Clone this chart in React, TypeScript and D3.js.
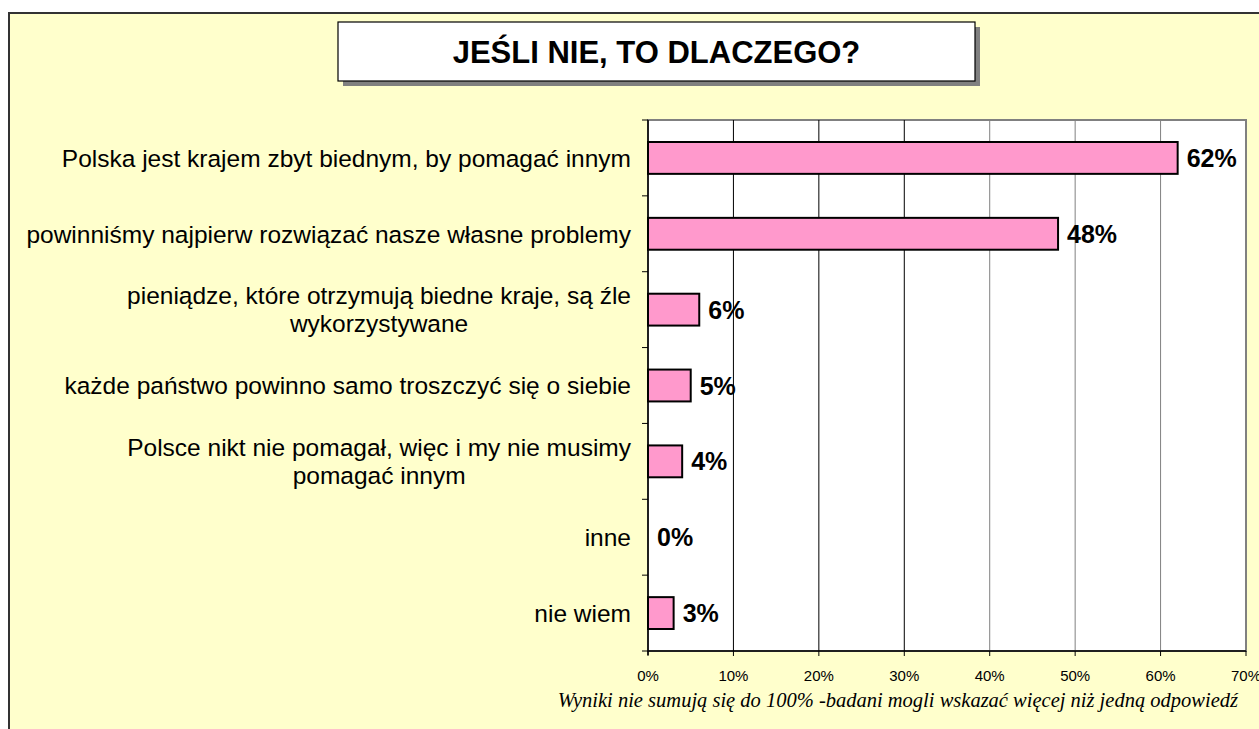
import React, { useEffect, useRef } from 'react';
import * as d3 from 'd3';

const title = 'JEŚLI NIE, TO DLACZEGO?';
const categories = [
  'Polska jest krajem zbyt biednym, by pomagać innym',
  'powinniśmy najpierw rozwiązać nasze własne problemy',
  'pieniądze, które otrzymują biedne kraje, są źle\nwykorzystywane',
  'każde państwo powinno samo troszczyć się o siebie',
  'Polsce nikt nie pomagał, więc i my nie musimy\npomagać innym',
  'inne',
  'nie wiem',
];
const values = [62, 48, 6, 5, 4, 0, 3];
const xTicks = [0, 10, 20, 30, 40, 50, 60, 70];
const footnote = 'Wyniki nie sumują się do 100% -badani mogli wskazać więcej niż jedną odpowiedź';

const W = 1259;
const H = 729;

const App: React.FC = () => {
  const svgRef = useRef<SVGSVGElement>(null);

  useEffect(() => {
    if (!svgRef.current) return;
    const svg = d3.select(svgRef.current);
    svg.selectAll('*').remove();

    const plot = { left: 648, right: 1246, top: 120, bottom: 651 };
    const sans = 'Arial, "Liberation Sans", sans-serif';

    // frame background
    svg.append('rect')
      .attr('x', 9).attr('y', 13).attr('width', W + 10).attr('height', H)
      .attr('fill', '#FFFFCC').attr('stroke', '#333').attr('stroke-width', 2);

    // title box with shadow
    svg.append('rect').attr('x', 343).attr('y', 27).attr('width', 637).attr('height', 59).attr('fill', '#808080');
    svg.append('rect').attr('x', 338).attr('y', 22).attr('width', 637).attr('height', 59)
      .attr('fill', '#fff').attr('stroke', '#000').attr('stroke-width', 1.2);
    svg.append('text')
      .attr('x', 656.5).attr('y', 63)
      .attr('text-anchor', 'middle')
      .attr('font-family', sans).attr('font-weight', 'bold').attr('font-size', 31)
      .attr('fill', '#000')
      .text(title);

    const x = d3.scaleLinear().domain([0, 70]).range([plot.left, plot.right]);
    const y = d3.scaleBand<number>()
      .domain(d3.range(categories.length))
      .range([plot.top, plot.bottom])
      .paddingInner(0.58).paddingOuter(0.29);
    const step = y.step();

    // plot area
    svg.append('rect')
      .attr('x', plot.left).attr('y', plot.top)
      .attr('width', plot.right - plot.left).attr('height', plot.bottom - plot.top)
      .attr('fill', '#fff').attr('stroke', '#808080').attr('stroke-width', 2);

    // gridlines
    svg.append('g').selectAll('line')
      .data(xTicks.slice(1, -1))
      .join('line')
      .attr('x1', d => x(d)).attr('x2', d => x(d))
      .attr('y1', plot.top).attr('y2', plot.bottom)
      .attr('stroke', (d) => (d <= 30 ? '#000' : '#808080')).attr('stroke-width', 1);

    // bars
    svg.append('g').selectAll('rect')
      .data(values)
      .join('rect')
      .attr('x', x(0))
      .attr('y', (_, i) => y(i)!)
      .attr('width', d => x(d) - x(0))
      .attr('height', y.bandwidth())
      .attr('fill', '#FF99CC')
      .attr('stroke', '#000').attr('stroke-width', d => (d > 0 ? 2 : 0));

    // value labels
    svg.append('g').selectAll('text')
      .data(values)
      .join('text')
      .attr('x', d => x(d) + 9)
      .attr('y', (_, i) => y(i)! + y.bandwidth() / 2)
      .attr('dy', '0.36em')
      .attr('font-family', sans).attr('font-weight', 'bold').attr('font-size', 25)
      .attr('fill', '#000')
      .text(d => `${d}%`);

    // axes
    svg.append('line')
      .attr('x1', plot.left).attr('x2', plot.left).attr('y1', plot.top).attr('y2', plot.bottom + 4)
      .attr('stroke', '#000').attr('stroke-width', 1.5);
    svg.append('line')
      .attr('x1', plot.left).attr('x2', plot.right).attr('y1', plot.bottom).attr('y2', plot.bottom)
      .attr('stroke', '#000').attr('stroke-width', 1.5);

    // left ticks at band boundaries
    svg.append('g').selectAll('line')
      .data(d3.range(categories.length + 1))
      .join('line')
      .attr('x1', plot.left - 6).attr('x2', plot.left)
      .attr('y1', i => plot.top + i * step).attr('y2', i => plot.top + i * step)
      .attr('stroke', '#000').attr('stroke-width', 1);

    // bottom ticks + labels
    const xa = svg.append('g');
    xa.selectAll('line')
      .data(xTicks)
      .join('line')
      .attr('x1', d => x(d)).attr('x2', d => x(d))
      .attr('y1', plot.bottom).attr('y2', plot.bottom + 5)
      .attr('stroke', '#000').attr('stroke-width', 1);
    xa.selectAll('text')
      .data(xTicks)
      .join('text')
      .attr('x', d => x(d)).attr('y', 681)
      .attr('text-anchor', 'middle')
      .attr('font-family', sans).attr('font-size', 15)
      .attr('fill', '#000')
      .text(d => `${d}%`);

    // category labels (multi-line labels centred on their widest line)
    const labelRight = 631;
    const lineH = 28;
    categories.forEach((cat, i) => {
      const lines = cat.split('\n');
      const cy = y(i)! + y.bandwidth() / 2;
      const g = svg.append('g');
      const texts = lines.map((ln, j) =>
        g.append('text')
          .attr('y', cy + (j - (lines.length - 1) / 2) * lineH)
          .attr('dy', '0.36em')
          .attr('font-family', sans).attr('font-size', 24.5)
          .attr('fill', '#000')
          .text(ln));
      if (lines.length === 1) {
        texts[0].attr('x', labelRight).attr('text-anchor', 'end');
      } else {
        const widths = texts.map(t => (t.node() as SVGTextElement).getComputedTextLength());
        const maxW = d3.max(widths) ?? 0;
        texts.forEach(t => t.attr('x', labelRight - maxW / 2).attr('text-anchor', 'middle'));
      }
    });

    // footnote
    svg.append('text')
      .attr('x', 1238).attr('y', 707)
      .attr('text-anchor', 'end')
      .attr('font-family', '"Times New Roman", "Liberation Serif", serif')
      .attr('font-style', 'italic').attr('font-size', 20.5)
      .attr('fill', '#000')
      .text(footnote);
  }, []);

  return (
    <svg
      ref={svgRef}
      width={W}
      height={H}
      viewBox={`0 0 ${W} ${H}`}
      style={{ position: 'absolute', left: 0, top: 0, background: '#fff' }}
    />
  );
};

export default App;
